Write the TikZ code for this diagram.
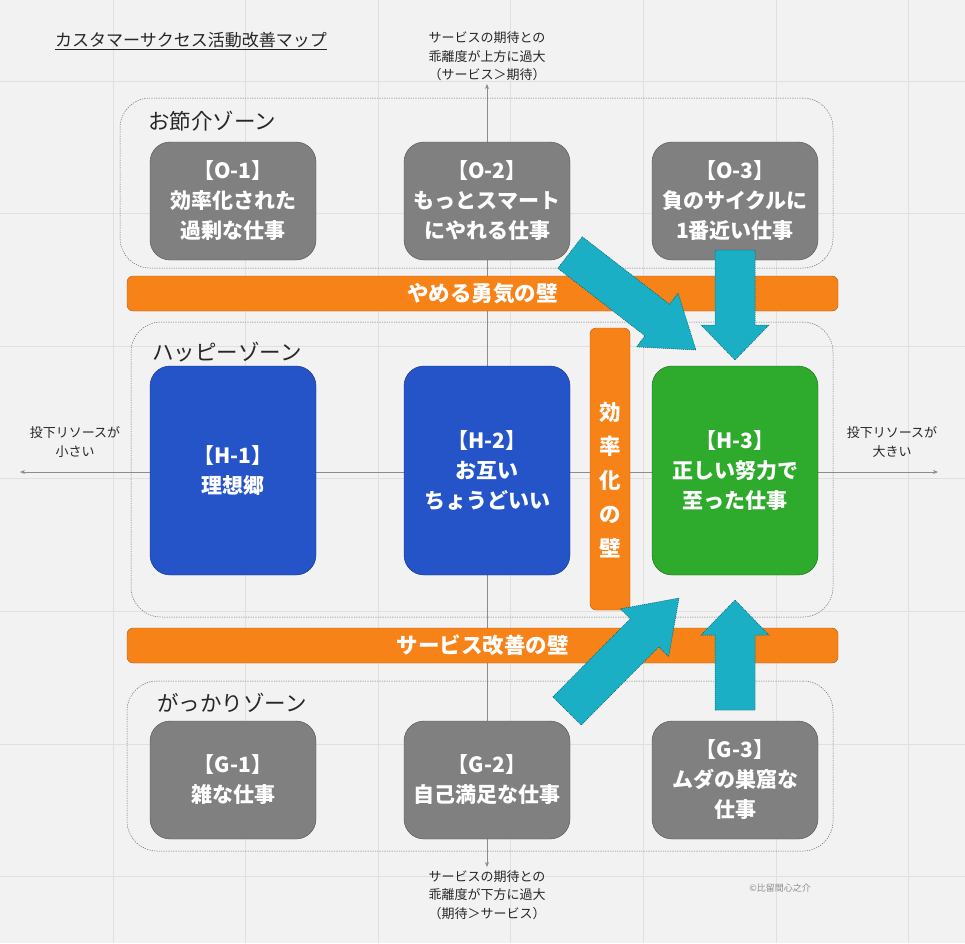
\documentclass[tikz,border=0pt]{standalone}
\usepackage{fontspec}
\setmainfont{Noto Sans CJK JP}
\usetikzlibrary{arrows.meta,calc,positioning}
\definecolor{bgcol}{HTML}{F2F2F2}
\definecolor{gridcol}{HTML}{E0E0E0}
\definecolor{greybox}{HTML}{808080}
\definecolor{bluebox}{HTML}{2553C8}
\definecolor{greenbox}{HTML}{2EAA2C}
\definecolor{wallcol}{HTML}{F78218}
\definecolor{arrowcol}{HTML}{1AAFC4}
\newcommand{\bw}{166pt}
\newcommand{\sh}{118pt}
\newcommand{\lh}{209pt}
% block arrow: tail, tip, head length
\newcommand{\fatarrow}[3]{%
  \coordinate (fa-h) at ($(#2)!#3!(#1)$);
  \filldraw[fatarrow] ($(#1)!20pt!90:(#2)$) -- ($(fa-h)!20pt!90:(#2)$)
    -- ($(fa-h)!34pt!90:(#2)$) -- (#2) -- ($(fa-h)!34pt!-90:(#2)$)
    -- ($(fa-h)!20pt!-90:(#2)$) -- ($(#1)!20pt!-90:(#2)$) -- cycle;
}
\tikzset{
    box/.style = {
        draw, rectangle, rounded corners=20pt, align=center,
        outer sep=0,
        inner sep=0,
        minimum width={\bw},
        minimum height={\sh},
        text=white,
        font=\fontsize{21}{30}\selectfont\bfseries
    },
    obox/.style = {box, fill=greybox, draw=greybox!65!black},
    hbox/.style = {box, fill=bluebox, draw=bluebox!60!black, minimum height={\lh}},
    gbox/.style = {box, fill=greybox, draw=greybox!65!black},
    h3box/.style = {box, fill=greenbox, draw=greenbox!60!black, minimum height={\lh}},
    zone/.style = {
        draw=black!60, line width=0.5pt, dash pattern=on 1.2pt off 1.2pt,
        rectangle, rounded corners=30pt, inner sep=0, outer sep=0
    },
    zonelbl/.style = {anchor=west, inner sep=0, text=black!85,
        font=\fontsize{21.5}{24}\selectfont},
    wall/.style = {
        fill=wallcol, draw=wallcol!70!black, rectangle, rounded corners=6pt,
        inner sep=0, outer sep=0, text=white,
        font=\fontsize{21.5}{34}\selectfont\bfseries
    },
    gridline/.style = {draw=gridcol, line width=1pt},
    axisline/.style = {draw=black!45, line width=0.8pt, -{Stealth[length=5pt,width=4pt]}},
    axislbl/.style = {align=center, inner sep=0, text=black!85,
        font=\fontsize{13}{18.5}\selectfont},
    fatarrow/.style = {fill=arrowcol, draw=arrowcol!50!black, line width=0.5pt,
        dash pattern=on 1pt off 1pt}
}

\begin{document}
\begin{tikzpicture}[x=1pt,y=-1pt]

% background and grid
\useasboundingbox (0,0) rectangle (965,943);
\fill[bgcol] (0,0) rectangle (965,943);
\foreach \g in {0,...,6}{
    \draw[gridline] ({113+132.6*\g},0) -- ({113+132.6*\g},943);
    \draw[gridline] (0,{81+132.6*\g}) -- (965,{81+132.6*\g});
}

\node[anchor=west, inner sep=0, text=black!85, font=\fontsize{17}{20}\selectfont]
    (title) at (55,41) {\underline{カスタマーサクセス活動改善マップ}};

% axes
\coordinate (C)      at (487,472);
\coordinate (ytop)   at (487,84);
\coordinate (ybot)   at (487,867);
\coordinate (xleft)  at (20,472);
\coordinate (xright) at (938,472);
\draw[axisline] (C) -- (ytop);
\draw[axisline] (C) -- (ybot);
\draw[axisline] (C) -- (xleft);
\draw[axisline] (C) -- (xright);

\node[axislbl, above=3pt of ytop](ytoplbl){サービスの期待との\\乖離度が上方に過大\\（サービス＞期待）};
\node[axislbl, below=3pt of ybot](ybotlbl){サービスの期待との\\乖離度が下方に過大\\（期待＞サービス）};
\node[axislbl] (xleftlbl)  at (75,442)  {投下リソースが\\小さい};
\node[axislbl] (xrightlbl) at (892,442) {投下リソースが\\大きい};

% zones
\node[zone, minimum width=713pt, minimum height=170pt](Ozone) at (476.5,183) {};
\node[zone, minimum width=702pt, minimum height=295pt](Hzone) at (482,469.5) {};
\node[zone, minimum width=706pt, minimum height=170pt](Gzone) at (480,766) {};
\node[zonelbl] (Ozonelbl) at ($(Ozone.north west)+(28,23)$) {お節介ゾーン};
\node[zonelbl] (Hzonelbl) at ($(Hzone.north west)+(21,30)$) {ハッピーゾーン};
\node[zonelbl] (Gzonelbl) at ($(Gzone.north west)+(30,22)$) {がっかりゾーン};

% walls
\node[wall, minimum width=711pt, minimum height=35pt](Ywall) at (482.5,293.5) {やめる勇気の壁};
\node[wall, minimum width=711pt, minimum height=35pt](Swall) at (482.5,645.5) {サービス改善の壁};
\node[wall, minimum width=40pt, minimum height=282pt](Ewall) at (610,469) {};
\node[wall, fill=none, draw=none, align=center] (Ewalltxt) at ($(Ewall.center)+(0,11)$) {効\\率\\化\\の\\壁};

% boxes
\node[obox] (O1) at (233,201) {【O-1】\\効率化された\\過剰な仕事};
\node[obox, right=88pt of O1] (O2) {【O-2】\\もっとスマート\\にやれる仕事};
\node[obox, right=82pt of O2] (O3) {【O-3】\\負のサイクルに\\1番近い仕事};

\node[hbox, below=106pt of O1] (H1) {【H-1】\\理想郷};
\node[hbox, below=106pt of O2] (H2) {【H-2】\\お互い\\ちょうどいい};
\node[h3box, below=106pt of O3] (H3) {【H-3】\\正しい努力で\\至った仕事};

\node[gbox, below=146pt of H1] (G1) {【G-1】\\雑な仕事};
\node[gbox, below=146pt of H2] (G2) {【G-2】\\自己満足な仕事};
\node[gbox, below=146pt of H3] (G3) {【G-3】\\ムダの巣窟な\\仕事};

% block arrows into H-3
\coordinate (a1) at ($(O2.south east)+(0,-7.5)$);
\coordinate (b1) at ($(H3.north west)+(44,-16)$);
\coordinate (a2) at ($(O3.south)+(0,-10)$);
\coordinate (b2) at ($(H3.north)+(0,-6)$);
\coordinate (a3) at ($(G2.north east)+(-3,-10)$);
\coordinate (b3) at ($(H3.south west)+(27,23)$);
\coordinate (a4) at ($(G3.north)+(0,-11)$);
\coordinate (b4) at ($(H3.south)+(0,25)$);
\fatarrow{a1}{b1}{49pt}
\fatarrow{a2}{b2}{35pt}
\fatarrow{a3}{b3}{49pt}
\fatarrow{a4}{b4}{35pt}

\node[inner sep=0, text=black!45, font=\fontsize{9}{10}\selectfont] (copy) at (780,888) {©比留間心之介};

\end{tikzpicture}
\end{document}
